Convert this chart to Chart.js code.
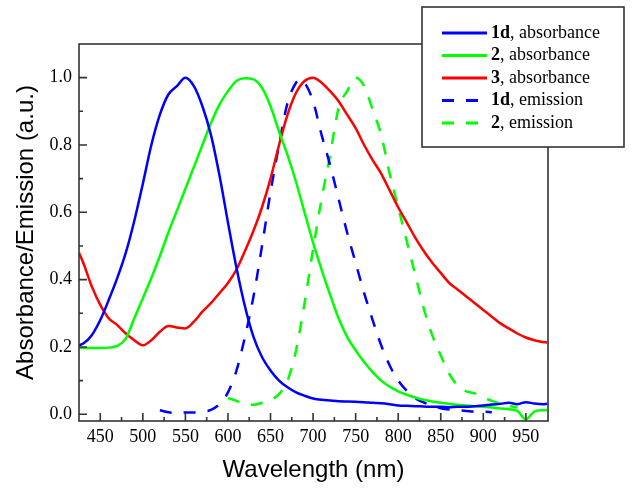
<!DOCTYPE html>
<html>
<head>
<meta charset="utf-8">
<script src="https://cdn.jsdelivr.net/npm/chart.js@4.4.1/dist/chart.umd.min.js"></script>
<style>
  body { margin: 0; background: #fff; }
  canvas { display: block; }
</style>
</head>
<body>
<canvas id="grafico" width="632" height="492"></canvas>
<script>
// Longitudes de onda (nm) de las curvas de absorbancia
const absWl = [425, 430, 440, 450, 460, 470, 480, 490, 500, 510, 520, 530, 540, 550, 560, 570, 580, 590, 600,
  610, 620, 630, 640, 650, 660, 670, 680, 690, 700, 710, 720, 730, 740, 750, 760, 770, 780, 790, 800,
  810, 820, 830, 840, 850, 860, 870, 880, 890, 900, 910, 920, 930, 940, 950, 960, 970, 975];

// 1d, absorbancia
const abs1d = [0.205, 0.21, 0.235, 0.28, 0.34, 0.405, 0.48, 0.575, 0.685, 0.80, 0.89, 0.95, 0.975, 1.0, 0.975, 0.915, 0.83, 0.71, 0.57,
  0.435, 0.32, 0.23, 0.17, 0.13, 0.10, 0.08, 0.065, 0.055, 0.047, 0.043, 0.041, 0.039, 0.038, 0.037, 0.036, 0.034, 0.033, 0.030, 0.026,
  0.025, 0.024, 0.023, 0.022, 0.022, 0.021, 0.022, 0.022, 0.024, 0.026, 0.029, 0.031, 0.034, 0.030, 0.036, 0.032, 0.030, 0.031];

// 2, absorbancia
const abs2 = [0.198, 0.197, 0.197, 0.197, 0.198, 0.203, 0.225, 0.285, 0.345, 0.405, 0.47, 0.54, 0.605, 0.67, 0.735, 0.80, 0.865, 0.92, 0.96,
  0.99, 0.998, 0.995, 0.97, 0.915, 0.84, 0.77, 0.69, 0.60, 0.51, 0.43, 0.355, 0.285, 0.23, 0.19, 0.155, 0.125, 0.10, 0.082, 0.068,
  0.058, 0.05, 0.043, 0.038, 0.034, 0.031, 0.028, 0.026, 0.024, 0.022, 0.02, 0.017, 0.015, 0.01, -0.015, 0.008, 0.012, 0.012];

// 3, absorbancia
const abs3 = [0.48, 0.45, 0.38, 0.325, 0.285, 0.265, 0.24, 0.22, 0.205, 0.22, 0.245, 0.262, 0.258, 0.255, 0.275, 0.305, 0.33, 0.36, 0.39,
  0.43, 0.485, 0.545, 0.615, 0.70, 0.80, 0.89, 0.955, 0.99, 1.0, 0.985, 0.96, 0.93, 0.89, 0.85, 0.80, 0.755, 0.715, 0.665, 0.615,
  0.57, 0.525, 0.485, 0.45, 0.42, 0.39, 0.37, 0.35, 0.33, 0.31, 0.29, 0.27, 0.255, 0.24, 0.228, 0.22, 0.215, 0.213];

// 1d, emisión
const em1dWl = [520, 530, 540, 550, 560, 570, 580, 590, 600, 610, 620, 630, 640, 650, 660, 670, 680, 685, 690, 700,
  710, 720, 730, 740, 750, 760, 770, 780, 790, 800, 810, 820, 830, 840, 850, 860, 870, 880, 890, 900, 910];
const em1d = [0.012, 0.006, 0.004, 0.005, 0.005, 0.008, 0.013, 0.03, 0.065, 0.13, 0.23, 0.35, 0.50, 0.66, 0.80, 0.925, 0.985, 0.995, 0.985, 0.93,
  0.83, 0.74, 0.64, 0.54, 0.45, 0.36, 0.28, 0.205, 0.145, 0.10, 0.07, 0.048, 0.035, 0.025, 0.018, 0.014, 0.012, 0.01, 0.008, 0.008, 0.006];

// 2, emisión
const em2Wl = [600, 610, 620, 630, 640, 650, 660, 670, 680, 690, 700, 710, 720, 730, 740, 750, 760, 770,
  780, 790, 800, 810, 820, 830, 840, 850, 860, 870, 880, 890, 900, 910, 920, 930, 940];
const em2 = [0.048, 0.04, 0.03, 0.028, 0.034, 0.042, 0.06, 0.10, 0.19, 0.33, 0.49, 0.64, 0.77, 0.91, 0.96, 1.0, 0.975, 0.905,
  0.83, 0.715, 0.615, 0.515, 0.415, 0.315, 0.235, 0.175, 0.12, 0.085, 0.068, 0.062, 0.05, 0.04, 0.032, 0.025, 0.02];

// Leyenda
const seriesNames = ["1d", "2", "3", "1d", "2"];
const seriesKinds = ["absorbance", "absorbance", "absorbance", "emission", "emission"];
const seriesColors = ["#0000ff", "#00ff00", "#ff0000", "#0000ff", "#00ff00"];

// Marcas de los ejes
const xTicks = [450, 500, 550, 600, 650, 700, 750, 800, 850, 900, 950];
const xMinor = [475, 525, 575, 625, 675, 725, 775, 825, 875, 925];
const yTicks = [0.0, 0.2, 0.4, 0.6, 0.8, 1.0];
const yMinor = [0.1, 0.3, 0.5, 0.7, 0.9];

const serif = "'Liberation Serif', 'Times New Roman', serif";
const sans = "'Liberation Sans', Arial, sans-serif";
const dash = [12, 12];

const toPoints = (xs, ys) => xs.map((x, i) => ({ x: x, y: ys[i] }));

const curvas = [
  toPoints(absWl, abs1d),
  toPoints(absWl, abs2),
  toPoints(absWl, abs3),
  toPoints(em1dWl, em1d),
  toPoints(em2Wl, em2)
];

// Marco, marcas hacia adentro y leyenda
const marcoYLeyenda = {
  id: "marcoYLeyenda",
  afterDatasetsDraw(chart) {
    const { ctx, chartArea: a, scales: { x, y } } = chart;
    ctx.save();
    ctx.strokeStyle = "#333";
    ctx.lineWidth = 1.6;
    ctx.strokeRect(a.left, a.top, a.right - a.left, a.bottom - a.top);
    ctx.beginPath();
    xTicks.forEach(v => { const px = x.getPixelForValue(v); ctx.moveTo(px, a.bottom); ctx.lineTo(px, a.bottom - 8); });
    xMinor.forEach(v => { const px = x.getPixelForValue(v); ctx.moveTo(px, a.bottom); ctx.lineTo(px, a.bottom - 4); });
    yTicks.forEach(v => { const py = y.getPixelForValue(v); ctx.moveTo(a.left, py); ctx.lineTo(a.left + 8, py); });
    yMinor.forEach(v => { const py = y.getPixelForValue(v); ctx.moveTo(a.left, py); ctx.lineTo(a.left + 4, py); });
    ctx.stroke();
    ctx.restore();
  },
  afterDraw(chart) {
    const ctx = chart.ctx;
    ctx.save();
    ctx.fillStyle = "#fff";
    ctx.fillRect(422, 7, 202, 140);
    ctx.strokeStyle = "#333";
    ctx.lineWidth = 1.6;
    ctx.strokeRect(422, 7, 202, 140);

    seriesNames.forEach((name, i) => {
      const ds = chart.data.datasets[i];
      const yy = 33 + i * 22.5;
      ctx.strokeStyle = ds.borderColor;
      ctx.lineWidth = 3;
      ctx.setLineDash(ds.borderDash || []);
      ctx.beginPath();
      ctx.moveTo(442, yy);
      ctx.lineTo(ds.borderDash ? 481 : 487, yy);
      ctx.stroke();
      ctx.setLineDash([]);

      ctx.fillStyle = "#000";
      ctx.textBaseline = "middle";
      ctx.font = "bold 18px " + serif;
      ctx.fillText(name, 491, yy);
      const w = ctx.measureText(name).width;
      ctx.font = "18px " + serif;
      ctx.fillText(", " + seriesKinds[i], 491 + w, yy);
    });
    ctx.restore();
  }
};

new Chart(document.getElementById("grafico"), {
  type: "line",
  data: {
    datasets: curvas.map((pts, i) => ({
      label: seriesNames[i] + ", " + seriesKinds[i],
      data: pts,
      borderColor: seriesColors[i],
      borderWidth: 2.5,
      borderDash: seriesKinds[i] === "emission" ? dash : undefined,
      pointRadius: 0,
      fill: false,
      cubicInterpolationMode: "monotone"
    }))
  },
  options: {
    responsive: false,
    animation: false,
    devicePixelRatio: 1,
    layout: { padding: { top: 44, right: 84, left: 0, bottom: 0 } },
    plugins: { legend: { display: false }, tooltip: { enabled: false } },
    scales: {
      x: {
        type: "linear",
        min: 425,
        max: 976,
        afterBuildTicks: s => { s.ticks = xTicks.map(v => ({ value: v })); },
        afterFit: s => { s.height = 71; },
        grid: { display: false, drawTicks: false },
        border: { display: false },
        ticks: {
          color: "#000",
          padding: 5,
          autoSkip: false,
          maxRotation: 0,
          font: { family: serif, size: 18 },
          callback: v => String(v)
        },
        title: {
          display: true,
          text: "Wavelength (nm)",
          color: "#000",
          font: { family: sans, size: 24 },
          padding: { top: 0, bottom: 7 }
        }
      },
      y: {
        type: "linear",
        min: -0.02,
        max: 1.1,
        afterBuildTicks: s => { s.ticks = yTicks.map(v => ({ value: v })); },
        afterFit: s => { s.width = 79; },
        grid: { display: false, drawTicks: false },
        border: { display: false },
        ticks: {
          color: "#000",
          padding: 7,
          font: { family: serif, size: 18 },
          callback: v => v.toFixed(1)
        },
        title: {
          display: true,
          text: "Absorbance/Emission (a.u.)",
          color: "#000",
          font: { family: sans, size: 24 },
          padding: { top: 12, bottom: 0 }
        }
      }
    }
  },
  plugins: [marcoYLeyenda]
});
</script>
</body>
</html>
